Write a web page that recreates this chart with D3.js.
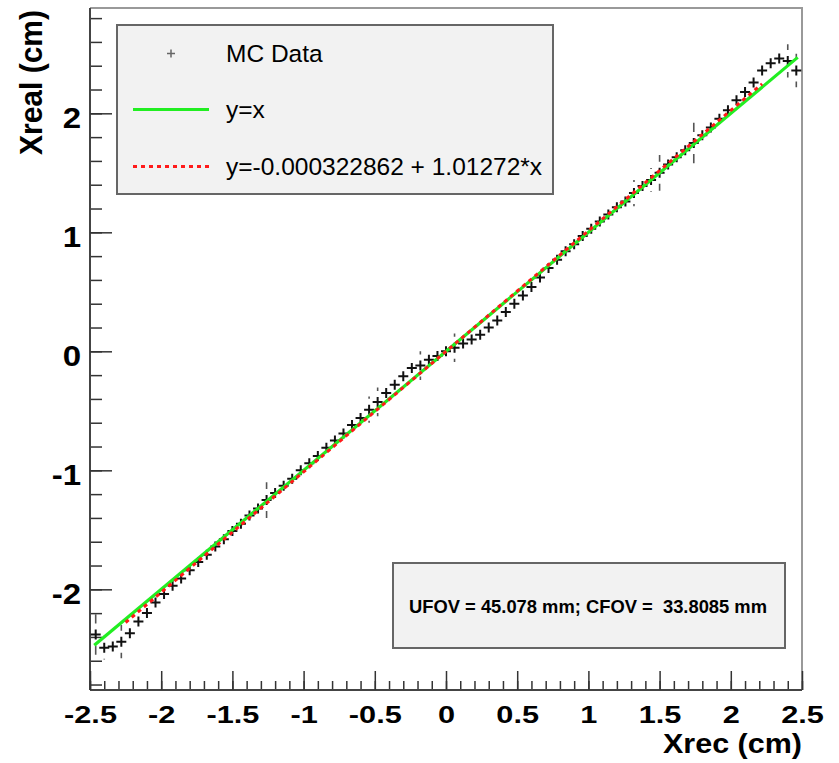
<!DOCTYPE html>
<html>
<head>
<meta charset="utf-8">
<script src="https://cdn.jsdelivr.net/npm/d3@7"></script>
<style>
  body { margin: 0; background: #fff; }
  svg { display: block; }
  .axis text { font-family: "Liberation Sans", Arial, sans-serif; font-weight: bold; fill: #000; }
  .axis .domain { stroke: #444; stroke-width: 2; }
  .axis .tick line { stroke: #333; stroke-width: 1.5; }
</style>
</head>
<body>
<div id="chart"></div>
<script>
// MC profile: reconstructed vs real position (cm)
const xrec = [-2.46, -2.40, -2.34, -2.28, -2.22, -2.16, -2.10, -2.04, -1.98, -1.92,
  -1.86, -1.80, -1.74, -1.68, -1.62, -1.56, -1.50, -1.44, -1.38, -1.32,
  -1.26, -1.20, -1.14, -1.08, -1.02, -0.96, -0.90, -0.84, -0.78, -0.72,
  -0.66, -0.60, -0.54, -0.48, -0.42, -0.36, -0.30, -0.24, -0.18, -0.12,
  -0.06, 0.00, 0.06, 0.12, 0.18, 0.24, 0.30, 0.36, 0.42, 0.48,
  0.54, 0.60, 0.66, 0.72, 0.78, 0.84, 0.90, 0.96, 1.02, 1.08,
  1.14, 1.20, 1.26, 1.32, 1.38, 1.44, 1.50, 1.56, 1.62, 1.68,
  1.74, 1.80, 1.86, 1.92, 1.98, 2.04, 2.10, 2.16, 2.22, 2.28,
  2.34, 2.40, 2.46];
const xreal = [-2.38, -2.49, -2.48, -2.44, -2.37, -2.27, -2.20, -2.11, -2.04, -1.97,
  -1.91, -1.84, -1.77, -1.71, -1.64, -1.58, -1.51, -1.45, -1.38, -1.32,
  -1.25, -1.19, -1.13, -1.07, -1.00, -0.94, -0.88, -0.81, -0.75, -0.69,
  -0.62, -0.56, -0.49, -0.425, -0.35, -0.28, -0.21, -0.14, -0.12, -0.07,
  -0.04, 0.00, 0.03, 0.065, 0.10, 0.14, 0.20, 0.26, 0.33, 0.40,
  0.47, 0.54, 0.62, 0.70, 0.77, 0.84, 0.90, 0.97, 1.03, 1.09,
  1.15, 1.21, 1.26, 1.33, 1.39, 1.44, 1.50, 1.57, 1.63, 1.69,
  1.75, 1.815, 1.88, 1.955, 2.025, 2.11, 2.18, 2.26, 2.36, 2.42,
  2.46, 2.44, 2.36];
const xrealErr = [0.17, 0.10, 0.03, 0.14, 0.03, 0.03, 0.03, 0.03, 0.03, 0.03,
  0.03, 0.03, 0.03, 0.03, 0.03, 0.03, 0.03, 0.03, 0.03, 0.03,
  0.15, 0.03, 0.03, 0.03, 0.03, 0.03, 0.03, 0.03, 0.03, 0.03,
  0.03, 0.03, 0.11, 0.12, 0.03, 0.03, 0.03, 0.03, 0.12, 0.03,
  0.03, 0.03, 0.12, 0.03, 0.03, 0.03, 0.03, 0.03, 0.03, 0.03,
  0.03, 0.03, 0.03, 0.03, 0.03, 0.03, 0.03, 0.03, 0.03, 0.03,
  0.03, 0.03, 0.03, 0.11, 0.03, 0.10, 0.15, 0.03, 0.03, 0.03,
  0.17, 0.03, 0.03, 0.03, 0.03, 0.03, 0.03, 0.03, 0.03, 0.03,
  0.03, 0.14, 0.14];

const identityRange = [-2.47, 2.47];
const fitRange = [-2.25, 2.22];
const fitIntercept = -0.000322862;
const fitSlope = 1.01272;

const xMajor = [-2.5, -2, -1.5, -1, -0.5, 0, 0.5, 1, 1.5, 2, 2.5];
const xMinor = d3.range(-25, 26).map(d => d / 10);
const yMajor = [-2, -1, 0, 1, 2];
const yMinor = d3.range(-14, 15).map(d => d / 5);

const legendLabels = ["MC Data", "y=x", "y=-0.000322862 + 1.01272*x"];
const statText = "UFOV = 45.078 mm; CFOV =  33.8085 mm";

const W = 839, H = 763;
const frame = {left: 90, right: 802, top: 8, bottom: 690};

const svg = d3.select("#chart").append("svg")
  .attr("width", W).attr("height", H);

const x = d3.scaleLinear().domain([-2.5, 2.5]).range([frame.left, frame.right]);
const y = d3.scaleLinear().domain([-2.846, 2.885]).range([frame.bottom, frame.top]);

// plain hyphen minus, like the original
const fmt = d => String(d);

// frame (top / right)
svg.append("path")
  .attr("d", `M${frame.left},${frame.top}H${frame.right}V${frame.bottom}`)
  .attr("fill", "none").attr("stroke", "#999").attr("stroke-width", 2);

// y axis
const yMinorG = svg.append("g").attr("class", "axis")
  .attr("transform", `translate(${frame.left},0)`)
  .call(d3.axisLeft(y).tickValues(yMinor).tickSize(-12).tickSizeOuter(0).tickFormat(""));
yMinorG.select(".domain").remove();
const yAxisG = svg.append("g").attr("class", "axis")
  .attr("transform", `translate(${frame.left},0)`)
  .call(d3.axisLeft(y).tickValues(yMajor).tickSize(-22).tickSizeOuter(0).tickPadding(8).tickFormat(fmt));
yAxisG.selectAll(".tick text")
  .attr("dy", null).attr("y", 14.5)
  .style("font-size", "30px")
  .attr("transform", "scale(1.1,1)");
yAxisG.select(".domain").attr("d", `M0,${frame.top}V${frame.bottom}`);

// x axis
const xMinorG = svg.append("g").attr("class", "axis")
  .attr("transform", `translate(0,${frame.bottom})`)
  .call(d3.axisBottom(x).tickValues(xMinor).tickSize(-9).tickSizeOuter(0).tickFormat(""));
xMinorG.select(".domain").remove();
const xAxisG = svg.append("g").attr("class", "axis")
  .attr("transform", `translate(0,${frame.bottom})`)
  .call(d3.axisBottom(x).tickValues(xMajor).tickSize(-19).tickSizeOuter(0).tickFormat(fmt));
xAxisG.selectAll(".tick text")
  .attr("dy", null).attr("y", 33)
  .style("font-size", "24px")
  .attr("transform", "scale(1.28,1)");
xAxisG.select(".domain").attr("d", `M${frame.left},0H${frame.right}`);

// axis titles
svg.append("text")
  .attr("x", frame.right).attr("y", 753)
  .attr("text-anchor", "end")
  .attr("textLength", 139).attr("lengthAdjust", "spacingAndGlyphs")
  .style("font-family", "'Liberation Sans', Arial, sans-serif")
  .style("font-weight", "bold").style("font-size", "28px")
  .text("Xrec (cm)");
svg.append("text")
  .attr("transform", `translate(41.5,10) rotate(-90)`)
  .attr("text-anchor", "end")
  .attr("textLength", 145).attr("lengthAdjust", "spacingAndGlyphs")
  .style("font-family", "'Liberation Sans', Arial, sans-serif")
  .style("font-weight", "bold").style("font-size", "32px")
  .text("Xreal (cm)");

// data points: error bars with marker gap, then "+" markers
const pts = xrec.map((d, i) => ({x: d, y: xreal[i], e: xrealErr[i]}));
const gap = 11;
const plot = svg.append("g");
plot.selectAll(".err").data(pts.filter(d => y(d.y - d.e) - y(d.y) > gap))
  .join("path")
  .attr("class", "err")
  .attr("d", d => {
    const cx = x(d.x), cy = y(d.y), ep = y(d.y - d.e) - cy;
    return `M${cx},${cy - ep}V${cy - gap}M${cx},${cy + gap}V${cy + ep}`;
  })
  .attr("stroke", "#555").attr("stroke-width", 1.6);
plot.selectAll(".pt").data(pts)
  .join("path")
  .attr("class", "pt")
  .attr("d", d => {
    const cx = x(d.x), cy = y(d.y);
    return `M${cx - 5},${cy}H${cx + 5}M${cx},${cy - 5}V${cy + 5}`;
  })
  .attr("stroke", "#111").attr("stroke-width", 2);

// y = x and fit lines
const line = d3.line().x(d => x(d[0])).y(d => y(d[1]));
plot.append("path")
  .attr("d", line(identityRange.map(v => [v, v])))
  .attr("fill", "none").attr("stroke", "#22ee22").attr("stroke-width", 3.2);
plot.append("path")
  .attr("d", line(fitRange.map(v => [v, fitIntercept + fitSlope * v])))
  .attr("fill", "none").attr("stroke", "#ff1a1a").attr("stroke-width", 3)
  .attr("stroke-dasharray", "4,4");

// legend
const leg = svg.append("g");
leg.append("rect")
  .attr("x", 117).attr("y", 25).attr("width", 436).attr("height", 169)
  .attr("fill", "#f2f2f2").attr("stroke", "#666").attr("stroke-width", 2);
const rowY = [53.5, 109.5, 166.5];
leg.append("path")
  .attr("d", `M167,${rowY[0]}H175M171,${rowY[0] - 4}V${rowY[0] + 4}`)
  .attr("stroke", "#666").attr("stroke-width", 1.5);
leg.append("line")
  .attr("x1", 133).attr("x2", 209).attr("y1", rowY[1]).attr("y2", rowY[1])
  .attr("stroke", "#22ee22").attr("stroke-width", 3);
leg.append("line")
  .attr("x1", 133).attr("x2", 209).attr("y1", rowY[2]).attr("y2", rowY[2])
  .attr("stroke", "#ff1a1a").attr("stroke-width", 3).attr("stroke-dasharray", "4,4");
leg.selectAll(".lab").data(legendLabels)
  .join("text")
  .attr("x", 226).attr("y", (d, i) => rowY[i] + 8.5)
  .style("font-family", "'Liberation Sans', Arial, sans-serif")
  .style("font-size", "24.5px").attr("fill", "#000")
  .text(d => d);

// stat box
svg.append("rect")
  .attr("x", 393).attr("y", 563).attr("width", 392).attr("height", 85)
  .attr("fill", "#f2f2f2").attr("stroke", "#666").attr("stroke-width", 2);
svg.append("text")
  .attr("x", 588).attr("y", 612.5)
  .attr("text-anchor", "middle")
  .attr("textLength", 358).attr("lengthAdjust", "spacingAndGlyphs")
  .style("white-space", "pre")
  .style("font-family", "'Liberation Sans', Arial, sans-serif")
  .style("font-weight", "bold").style("font-size", "18px")
  .text(statText);
</script>
</body>
</html>
